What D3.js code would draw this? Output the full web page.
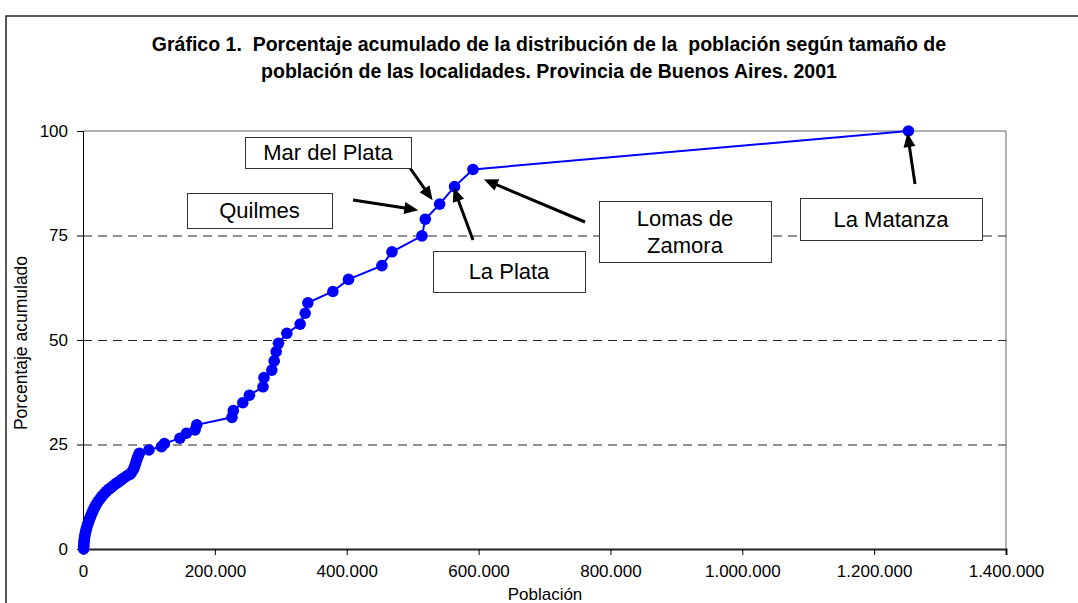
<!DOCTYPE html>
<html>
<head>
<meta charset="utf-8">
<script src="https://cdn.jsdelivr.net/npm/d3@7"></script>
<style>
  body { margin: 0; background: #fff; }
  text { font-family: "Liberation Sans", Arial, sans-serif; fill: #000; }
</style>
</head>
<body>
<svg id="chart" width="1078" height="603"></svg>
<script>
// Poblacion de cada localidad (ordenadas) y porcentaje acumulado
const poblacion = [
  1000, 1100, 1300, 1600, 2000, 2600, 3300, 4100, 5000, 6100,
  7300, 8600, 10000, 11500, 13000, 14700, 16400, 18300, 20500, 23000,
  25700, 28700, 32000, 35500, 39000, 42500, 46500, 50500, 54500, 58500,
  63000, 67500, 71500, 73500, 76000, 78000, 79500, 81000, 82500, 84000,
  85500, 100000, 119000, 123500, 147000, 157000, 170000, 172500, 226000, 228000,
  242400, 252400, 273000, 274500, 286400, 290000, 293000, 296500, 309200, 329400,
  337000, 341100, 379000, 402700, 453400, 468600, 514100, 519200, 540900, 563600,
  591500, 1252000
];
const porcentaje = [
  0.0, 0.6, 1.2, 1.8, 2.4, 3.0, 3.6, 4.2, 4.8, 5.4,
  6.0, 6.6, 7.2, 7.8, 8.4, 9.0, 9.6, 10.2, 10.8, 11.4,
  12.0, 12.6, 13.2, 13.8, 14.3, 14.7, 15.2, 15.7, 16.1, 16.6,
  17.1, 17.6, 17.9, 18.3, 18.9, 19.6, 20.3, 21.1, 21.8, 22.4,
  22.9, 23.7, 24.5, 25.2, 26.5, 27.7, 28.5, 29.7, 31.5, 33.1,
  35.0, 36.8, 38.8, 41.0, 42.8, 45.0, 47.2, 49.2, 51.6, 53.8,
  56.4, 58.9, 61.6, 64.5, 67.8, 71.1, 74.9, 78.9, 82.5, 86.7,
  90.8, 100
];
const yTicks = [0, 25, 50, 75, 100];
const xTicks = [0, 200000, 400000, 600000, 800000, 1000000, 1200000, 1400000];
const gridTicks = [25, 50, 75];

const etiquetas = [["La Matanza"], ["Lomas de", "Zamora"], ["La Plata"], ["Mar del Plata"], ["Quilmes"]];
const etiquetaPob = [1252000, 591500, 563600, 540900, 519200];

const data = poblacion.map((p, i) => ({ p: p, v: porcentaje[i] }));

const svg = d3.select("#chart");

// outer frame
svg.append("rect")
  .attr("x", 6).attr("y", 16).attr("width", 1200).attr("height", 700)
  .attr("fill", "none").attr("stroke", "#222").attr("stroke-width", 1.5);

const x = d3.scaleLinear().domain([0, 1400000]).range([83, 1006]);
const y = d3.scaleLinear().domain([0, 100]).range([549, 131]);

const fmt = d3.formatLocale({ decimal: ",", thousands: ".", grouping: [3], currency: ["$", ""] }).format(",d");

// plot area border (top / right)
svg.append("path")
  .attr("d", `M${x(0)},${y(100)}H${x(1400000)}V${y(0)}`)
  .attr("fill", "none").attr("stroke", "#666").attr("stroke-width", 1);

// dashed gridlines
svg.selectAll(".grid")
  .data(gridTicks)
  .enter()
  .append("line")
  .attr("x1", x(0)).attr("x2", x(1400000))
  .attr("y1", d => y(d) + 0.5).attr("y2", d => y(d) + 0.5)
  .attr("stroke", "#222").attr("stroke-dasharray", "9,6");

// axes
const yAxis = svg.append("g")
  .attr("transform", `translate(${x(0)},0)`)
  .call(d3.axisLeft(y).tickValues(yTicks).tickSize(6).tickPadding(9));
yAxis.select(".domain").attr("stroke", "#000");
yAxis.selectAll("text").attr("font-size", 17).attr("font-family", null);

const xAxis = svg.append("g")
  .attr("transform", `translate(0,${y(0)})`)
  .call(d3.axisBottom(x).tickValues(xTicks).tickFormat(fmt).tickSize(6).tickPadding(10));
xAxis.select(".domain").attr("stroke", "#222").attr("stroke-width", 2);
xAxis.selectAll("text").attr("font-size", 17).attr("font-family", null);

// series line + markers
svg.append("path")
  .datum(data)
  .attr("fill", "none")
  .attr("stroke", "#0000ff")
  .attr("stroke-width", 2)
  .attr("d", d3.line().x(d => x(d.p)).y(d => y(d.v)));

svg.selectAll(".pt")
  .data(data)
  .enter()
  .append("circle")
  .attr("cx", d => x(d.p))
  .attr("cy", d => y(d.v))
  .attr("r", 5.8)
  .attr("fill", "#0000ff");

// annotations: box, text, arrow
const anotaciones = [
  { box: [800, 198, 182, 42], tail: [915, 184], off: [-1, 2] },
  { box: [599, 201, 172, 61], tail: [585, 222], off: [11, 10] },
  { box: [433, 251, 152, 41], tail: [473, 240], off: [-1, 1] },
  { box: [245, 137, 166, 31], tail: [410, 168], off: [-7, -4] },
  { box: [187, 193, 145, 35], tail: [353, 200], off: [-7, -9] }
];

anotaciones.forEach((a, i) => {
  const [bx, by, bw, bh] = a.box;
  const pt = data.find(d => d.p === etiquetaPob[i]);
  const tip = [x(pt.p) + a.off[0], y(pt.v) + a.off[1]];

  const dx = tip[0] - a.tail[0], dy = tip[1] - a.tail[1];
  const len = Math.sqrt(dx * dx + dy * dy);
  const ux = dx / len, uy = dy / len;
  const headL = 14, headW = 6;
  const base = [tip[0] - ux * headL, tip[1] - uy * headL];

  svg.append("line")
    .attr("x1", a.tail[0]).attr("y1", a.tail[1])
    .attr("x2", base[0] + ux * 2).attr("y2", base[1] + uy * 2)
    .attr("stroke", "#000").attr("stroke-width", 3);
  svg.append("polygon")
    .attr("points", [
      tip,
      [base[0] - uy * headW, base[1] + ux * headW],
      [base[0] + uy * headW, base[1] - ux * headW]
    ].map(p => p.join(",")).join(" "))
    .attr("fill", "#000");

  svg.append("rect")
    .attr("x", bx + 0.5).attr("y", by + 0.5).attr("width", bw).attr("height", bh)
    .attr("fill", "#fff").attr("stroke", "#333").attr("stroke-width", 1);

  const lines = etiquetas[i];
  const cy = by + bh / 2;
  const lh = 27;
  lines.forEach((t, j) => {
    svg.append("text")
      .attr("x", bx + bw / 2)
      .attr("y", cy + (j - (lines.length - 1) / 2) * lh + 7.7)
      .attr("text-anchor", "middle")
      .attr("font-size", 22)
      .text(t);
  });
});

// titles
const title = svg.append("text")
  .attr("text-anchor", "middle")
  .attr("font-size", 19.5)
  .attr("font-weight", "bold")
  .style("white-space", "pre");
title.append("tspan").attr("x", 549).attr("y", 51)
  .text("Gráfico 1.  Porcentaje acumulado de la distribución de la  población según tamaño de");
title.append("tspan").attr("x", 549).attr("y", 78)
  .text("población de las localidades. Provincia de Buenos Aires. 2001");

svg.append("text")
  .attr("x", 545).attr("y", 600)
  .attr("text-anchor", "middle")
  .attr("font-size", 17)
  .text("Población");

svg.append("text")
  .attr("transform", "translate(27,343) rotate(-90)")
  .attr("text-anchor", "middle")
  .attr("font-size", 17.5)
  .text("Porcentaje acumulado");
</script>
</body>
</html>
